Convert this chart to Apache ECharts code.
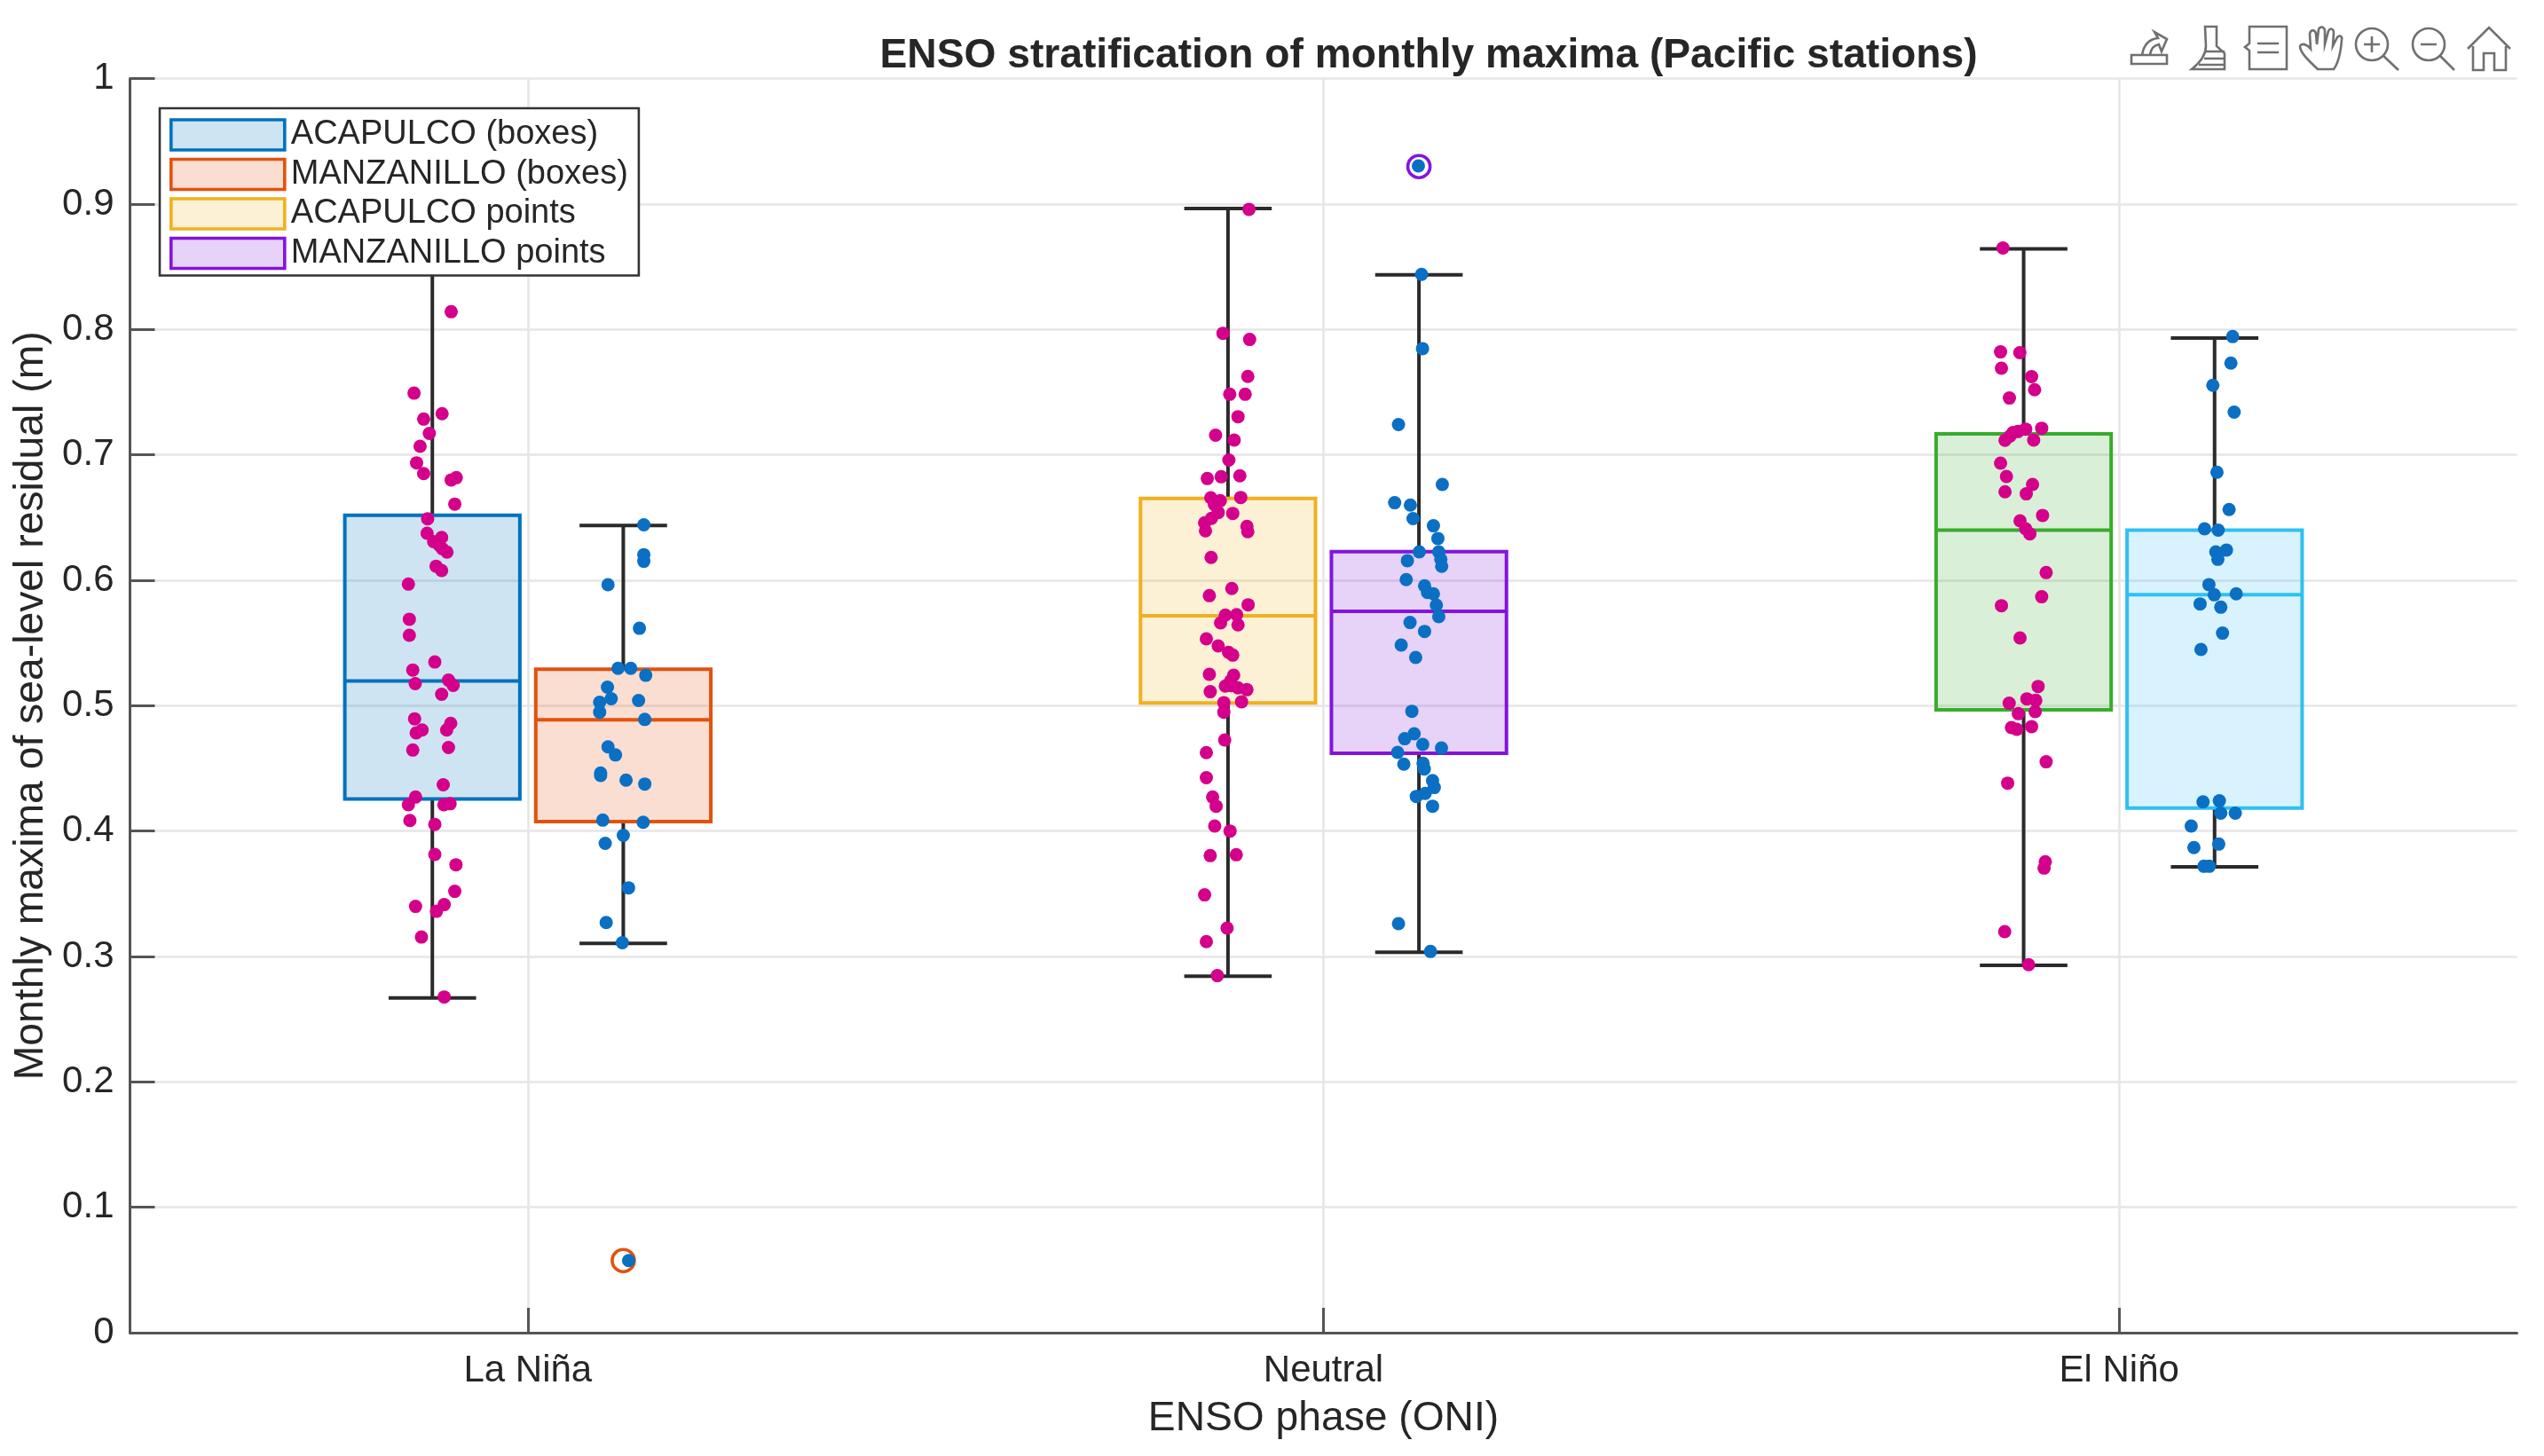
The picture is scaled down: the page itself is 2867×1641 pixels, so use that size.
<!DOCTYPE html>
<html>
<head>
<meta charset="utf-8">
<style>html,body{margin:0;padding:0;background:#fff}#chart{width:2867px;height:1641px}</style>
<script src="https://cdn.jsdelivr.net/npm/echarts@6/dist/echarts.min.js"></script>
</head>
<body>
<div id="chart"></div>
<script>
const titleText = 'ENSO stratification of monthly maxima (Pacific stations)';
const xAxisTitle = 'ENSO phase (ONI)';
const yAxisTitle = 'Monthly maxima of sea-level residual (m)';
const categories = ['La Niña', 'Neutral', 'El Niño'];
const legendNames = ['ACAPULCO (boxes)', 'MANZANILLO (boxes)', 'ACAPULCO points', 'MANZANILLO points'];

// Box statistics per ENSO phase (La Niña, Neutral, El Niño), metres
const acapulcoLow = [0.2669, 0.2842, 0.2929];
const acapulcoQ1 = [0.4255, 0.5021, 0.4967];
const acapulcoMedian = [0.5197, 0.5717, 0.6400];
const acapulcoQ3 = [0.6518, 0.6653, 0.7167];
const acapulcoHigh = [0.88, 0.8964, 0.8643];
const manzanilloLow = [0.3105, 0.3033, 0.3714];
const manzanilloQ1 = [0.4076, 0.4620, 0.4184];
const manzanilloMedian = [0.4887, 0.5752, 0.5884];
const manzanilloQ3 = [0.5290, 0.6228, 0.6400];
const manzanilloHigh = [0.6437, 0.8436, 0.7931];
const manzanilloOutlier = [0.0575, 0.9299, null];

// Box colours: ACA/MAN in each phase
const boxColors = ['#0072BD', '#E2520F', '#EFB120', '#8414DC', '#38AC2C', '#2FC0F2'];

// Points as [horizontal jitter in axis units, value in metres]
const acaLaNina = [[0.0237,0.8141],[-0.023,0.7492],[0.0122,0.7328],[-0.0109,0.7285],[-0.0038,0.7171],[-0.0154,0.7068],[-0.0198,0.6936],[-0.0109,0.685],[0.0237,0.68],[0.0301,0.6818],
[0.0282,0.6607],[-0.0059,0.649],[-0.0066,0.6375],[0.0117,0.6341],[0.0016,0.6308],[0.0086,0.628],[0.0125,0.6252],[0.0184,0.6224],[0.0047,0.6112],[0.0117,0.6078],[-0.0301,0.5969],[-0.0289,0.5689],[-0.0289,0.5561],[0.0031,0.5348],[-0.0246,0.5284],[0.0203,0.5203],[-0.0215,0.5175],[0.0262,0.5161],[0.0117,0.5091],[-0.0223,0.4895],[0.0231,0.4859],[0.018,0.4806],[-0.0129,0.4806],[-0.0203,0.4783],[-0.0246,0.4646],[0.0203,0.4666],[0.0137,0.4369],[-0.0211,0.4271],[-0.0301,0.421],[0.0145,0.421],[0.0223,0.4218],[-0.0282,0.4084],[0.0031,0.4053],[0.0031,0.3813],[0.0297,0.3731],[0.0282,0.3519],[-0.0211,0.3399],[0.0149,0.3413],[0.0051,0.336],[-0.0137,0.3155],[0.0149,0.2677]];
const manLaNina = [[0.0258,0.6442],[0.0258,0.6204],[0.0258,0.6151],[-0.0192,0.5964],[0.0203,0.5617],[-0.0066,0.5298],[0.0094,0.5298],[0.0282,0.5242],[-0.0199,0.5147],[-0.0152,0.5055],[-0.0297,0.5027],[0.0192,0.5041],[-0.0297,0.4948],[0.027,0.489],[-0.0192,0.4671],[-0.0098,0.4607],[-0.0285,0.4463],[-0.0285,0.4443],[0.0035,0.4406],[0.027,0.4375],[-0.0258,0.4087],[0.025,0.407],[0,0.3966],[-0.0227,0.3902],[0.0066,0.3547],[-0.0215,0.327],[-0.0012,0.311],[0.0067,0.0575]];
const acaNeutral = [[0.0264,0.8958],[-0.0063,0.7969],[0.0272,0.792],[0.0249,0.7625],[0.0022,0.7483],[0.0216,0.7483],[0.0126,0.7304],[-0.0156,0.7156],[0.0078,0.7118],[0.0011,0.6958],[-0.026,0.6811],[-0.0086,0.6825],[0.0149,0.6833],[-0.0216,0.6658],[-0.0097,0.6634],[0.016,0.666],[-0.0171,0.6604],[-0.0123,0.654],[0.006,0.6533],[-0.0208,0.6493],[-0.0294,0.6458],[-0.0283,0.6394],[0.0238,0.6429],[0.0249,0.6387],[-0.0212,0.6182],
[0.0048,0.5934],[-0.0234,0.5877],[0.0253,0.5804],[-0.0033,0.5722],[0.0108,0.5726],[-0.0093,0.566],[0.0126,0.5644],[-0.0272,0.5533],[-0.0123,0.5476],[0.0007,0.5425],[0.006,0.5403],[-0.0234,0.525],[0.0071,0.5243],[0.0033,0.5196],[-0.0033,0.5156],[0.0041,0.516],[0.0126,0.5142],[0.0238,0.5127],[-0.0223,0.5111],[0.0171,0.5031],[-0.0052,0.5024],[-0.0052,0.4948],[-0.0041,0.4726],[-0.0272,0.4625],[-0.0272,0.4425],[-0.0193,0.4271],[-0.0149,0.4198],[-0.0167,0.404],[0.0026,0.4],[-0.0223,0.3804],[0.0104,0.3811],[-0.0294,0.3491],[-0.0011,0.3226],[-0.0272,0.3118],[-0.0134,0.2847]];
const manNeutral = [[-0.0007,0.9304],[0.0033,0.8439],[0.0045,0.7847],[-0.0257,0.7241],[0.0294,0.6764],[-0.0305,0.6618],[-0.0108,0.6599],[-0.0074,0.6491],[0.0182,0.6434],[0.0238,0.6333],[0.0004,0.6226],[0.0249,0.6226],[0.0275,0.6167],[-0.0145,0.6156],[0.0286,0.6111],[-0.016,0.6005],
[0.0071,0.5955],[0.0108,0.5903],[0.0182,0.5892],[0.0219,0.5802],[0.0249,0.571],[-0.0112,0.5663],[0.0071,0.5592],[-0.0223,0.5483],[-0.0041,0.5384],[-0.0089,0.4955],[-0.006,0.4776],[-0.0179,0.4736],[0.0048,0.4691],[0.0283,0.4663],[-0.0268,0.4627],[-0.019,0.4533],[0.0052,0.454],[0.0067,0.4495],[0.0171,0.4403],[0.0193,0.4347],[0.0078,0.43],[-0.0033,0.4276],[0.0171,0.4198],[-0.0257,0.3262],[0.0145,0.304]];
const acaElNino = [[-0.026,0.8649],[-0.029,0.7821],[-0.0048,0.7814],[-0.0279,0.7691],[0.01,0.7623],[0.0138,0.7519],[-0.0179,0.7453],[0.0227,0.7212],[0.0026,0.7205],[-0.0071,0.7186],[-0.0134,0.7177],[-0.0171,0.7149],[-0.0234,0.7116],[0.0126,0.7118],[-0.029,0.6934],[-0.0216,0.6828],[0.0112,0.6764],[-0.0234,0.6705],[0.0033,0.6689],[0.0238,0.6517],[-0.0045,0.6474],[0.0026,0.641],[0.0078,0.637],[0.0283,0.6061],[0.0227,0.5868],[-0.0279,0.5797],[-0.0045,0.554],
[0.0182,0.5153],[0.0041,0.5054],[0.0153,0.5042],[-0.0182,0.5019],[-0.0067,0.4936],[0.0145,0.4953],[0.01,0.4833],[-0.0153,0.4825],[-0.0086,0.4811],[0.0283,0.4552],[-0.0201,0.4382],[0.0272,0.3755],[0.0257,0.3705],[-0.0238,0.3198],[0.0063,0.2934]];
const manElNino = [[0.0227,0.7943],[0.0205,0.7731],[-0.0022,0.7554],[0.0246,0.734],[0.003,0.6861],[0.0182,0.6564],[-0.0126,0.641],[0.0045,0.6399],[0.0149,0.6241],[0.0015,0.6226],[0.0041,0.621],[0.0041,0.6167],[-0.0071,0.5965],[-0.0004,0.5884],[0.0272,0.5892],[-0.0182,0.5811],[0.0078,0.5785],[0.01,0.5578],[-0.0171,0.5448],
[-0.0145,0.4233],[0.006,0.4241],[0.0078,0.4142],[0.026,0.4142],[-0.0294,0.404],[0.0052,0.3896],[-0.026,0.3868],[-0.0134,0.3719],[-0.0067,0.3719]];

const BOX_OFFSET = 0.12, BOX_WIDTH = 0.22, CAP_WIDTH = 0.11;
const acaPoints = [acaLaNina, acaNeutral, acaElNino];
const manPoints = [manLaNina, manNeutral, manElNino];

const inkLine = '#2a2a2a';
function hexA(c, a) {
  const n = parseInt(c.slice(1), 16);
  return `rgba(${n>>16},${(n>>8)&255},${n&255},${a})`;
}
const boxSeriesColors = [];
function renderBox(params, api) {
  const c = api.value(0), low = api.value(1), q1 = api.value(2), med = api.value(3), q3 = api.value(4), high = api.value(5), out = api.value(6);
  const col = boxSeriesColors[params.seriesIndex];
  const P = (x, y) => api.coord([x, y]);
  const hw = BOX_WIDTH / 2, ch = CAP_WIDTH / 2;
  const wl = { stroke: inkLine, lineWidth: 4 };
  const seg = (a, b, style) => ({ type: 'line', shape: { x1: a[0], y1: a[1], x2: b[0], y2: b[1] }, style });
  const tl = P(c - hw, q3), br = P(c + hw, q1);
  const children = [
    seg(P(c, q3), P(c, high), wl), seg(P(c, q1), P(c, low), wl),
    seg(P(c - ch, high), P(c + ch, high), wl), seg(P(c - ch, low), P(c + ch, low), wl),
    { type: 'rect', shape: { x: tl[0], y: tl[1], width: br[0] - tl[0], height: br[1] - tl[1] },
      style: { fill: hexA(col, 0.19), stroke: col, lineWidth: 4 } },
    seg(P(c - hw, med), P(c + hw, med), { stroke: col, lineWidth: 4 })
  ];
  if (!isNaN(out)) {
    const o = P(c, out);
    children.push({ type: 'circle', shape: { cx: o[0], cy: o[1], r: 12.5 }, style: { fill: 'none', stroke: col, lineWidth: 3.6 } });
  }
  return { type: 'group', children };
}

const series = [];
const boxNames = [legendNames[0], legendNames[1], legendNames[2], legendNames[3], 'ACAPULCO El Niño', 'MANZANILLO El Niño'];
categories.forEach((cat, i) => {
  const center = i + 1;
  [[-BOX_OFFSET, acapulcoLow, acapulcoQ1, acapulcoMedian, acapulcoQ3, acapulcoHigh, [null,null,null]],
   [BOX_OFFSET, manzanilloLow, manzanilloQ1, manzanilloMedian, manzanilloQ3, manzanilloHigh, manzanilloOutlier]].forEach((s, j) => {
    const k = i * 2 + j;
    boxSeriesColors[k] = boxColors[k];
    series.push({
      name: boxNames[k], type: 'custom', renderItem: renderBox, z: 3, silent: true, clip: false,
      itemStyle: { color: hexA(boxColors[k], 0.19), borderColor: boxColors[k], borderWidth: 3.6 },
      encode: { x: 0, y: [1, 2, 3, 4, 5] },
      data: [[center + s[0], s[1][i], s[2][i], s[3][i], s[4][i], s[5][i], s[6][i] == null ? '-' : s[6][i]]]
    });
  });
});
categories.forEach((cat, i) => {
  const center = i + 1;
  series.push({ name: 'ACAPULCO monthly maxima ' + cat, type: 'scatter', z: 4, silent: true, symbolSize: 15,
    itemStyle: { color: '#D4008C', opacity: 1 }, data: acaPoints[i].map(p => [center - BOX_OFFSET + p[0], p[1]]) });
  series.push({ name: 'MANZANILLO monthly maxima ' + cat, type: 'scatter', z: 4, silent: true, symbolSize: 15,
    itemStyle: { color: '#0B6FC4', opacity: 1 }, data: manPoints[i].map(p => [center + BOX_OFFSET + p[0], p[1]]) });
});

const iconStyle = { fill: 'none', stroke: '#707070', lineWidth: 2.6 };
const iconPaths = [
  'M2402 62 L2442 62 L2442 72 L2402 72 Z M2414 62 C2416 50 2422 44 2432 43 L2428 36 L2442 44 L2436 58 L2433 50 C2427 51 2424 55 2423 62',
  'M2485 30 L2498 30 L2498 52 L2507 60 L2507 78 L2470 78 C2480 70 2486 62 2486 52 Z M2486 58 L2507 58 M2484 66 L2507 66 M2478 73 L2507 73',
  'M2535 30 L2577 30 L2577 78 L2535 78 L2535 57 L2530 53 L2535 49 Z M2544 49 L2568 49 M2544 59 L2568 59',
  'M2612 78 C2604 70 2592 60 2592 52 C2594 48 2600 50 2604 55 L2603 38 C2604 33 2609 33 2610 38 L2611 50 L2613 33 C2615 29 2619 30 2620 34 L2620 50 L2624 35 C2626 31 2630 32 2630 37 L2629 52 L2634 42 C2637 39 2640 41 2639 45 C2638 58 2636 70 2630 78 Z',
  'M2691 50 A18 18 0 1 1 2655 50 A18 18 0 1 1 2691 50 M2686 63 L2703 79 M2664 50 L2682 50 M2673 41 L2673 59',
  'M2755 50 A18 18 0 1 1 2719 50 A18 18 0 1 1 2755 50 M2750 63 L2766 79 M2728 50 L2746 50',
  'M2781 55 L2805 31 L2829 55 M2787 52 L2787 79 L2799 79 L2799 60 L2811 60 L2811 79 L2824 79 L2824 52'
];
iconPaths.forEach((d, i) => echarts.graphic.registerShape('toolbarIcon' + i, echarts.graphic.extendPath(d, {})));

const chart = echarts.init(document.getElementById('chart'), null, { renderer: 'canvas', width: 2867, height: 1641 });
chart.setOption({
  animation: false,
  backgroundColor: '#ffffff',
  textStyle: { fontFamily: '"Liberation Sans", Arial, sans-serif' },
  title: {
    text: titleText, left: 1605, top: 35, textAlign: 'center',
    textStyle: { fontSize: 46.2, fontWeight: 'bold', color: '#262626', fontFamily: '"Liberation Sans", Arial, sans-serif' }
  },
  grid: { left: 146.5, right: 30.5, top: 88.6, bottom: 139, containLabel: false, outerBoundsMode: 'none' },
  legend: {
    left: 180, top: 122, orient: 'vertical', selectedMode: false, z: 20,
    itemWidth: 128, itemHeight: 34, itemGap: 6.5, padding: [11, 12, 6, 11],
    backgroundColor: '#ffffff', borderColor: '#333333', borderWidth: 2.6,
    textStyle: { fontSize: 38, color: '#262626', padding: [0, 0, 0, 2], fontFamily: '"Liberation Sans", Arial, sans-serif' },
    data: legendNames.map((n, i) => ({ name: n, icon: 'rect',
      itemStyle: { color: hexA(boxColors[i], 0.19), borderColor: boxColors[i], borderWidth: 3.6 } }))
  },
  xAxis: {
    type: 'value', min: 0.5, max: 3.5,
    name: xAxisTitle, nameLocation: 'middle', nameGap: 74,
    nameTextStyle: { fontSize: 46.2, color: '#262626' },
    axisLine: { show: true, lineStyle: { color: '#555555', width: 3 } },
    axisTick: { show: true, inside: true, length: 28, customValues: [1, 2, 3], lineStyle: { color: '#555555', width: 3 } },
    axisLabel: { show: true, customValues: [1, 2, 3], fontSize: 42, color: '#262626', margin: 22,
      formatter: v => categories[Math.round(v) - 1] || '' },
    splitLine: { show: true, customValues: [1, 2, 3], lineStyle: { color: '#e6e6e6', width: 2.6 } }
  },
  yAxis: {
    type: 'value', min: 0, max: 1, interval: 0.1,
    name: yAxisTitle, nameLocation: 'middle', nameGap: 88, nameRotate: 90,
    nameTextStyle: { fontSize: 46.3, color: '#262626' },
    axisLine: { show: true, lineStyle: { color: '#555555', width: 3 } },
    axisTick: { show: true, inside: true, length: 28, lineStyle: { color: '#555555', width: 3 } },
    axisLabel: { fontSize: 42, color: '#262626', margin: 18, formatter: v => String(+v.toFixed(1)) },
    splitLine: { show: true, lineStyle: { color: '#e6e6e6', width: 2.6 } }
  },
  graphic: iconPaths.map((d, i) => ({ type: 'toolbarIcon' + i, silent: true, style: iconStyle })),
  series
});
</script>
</body>
</html>
